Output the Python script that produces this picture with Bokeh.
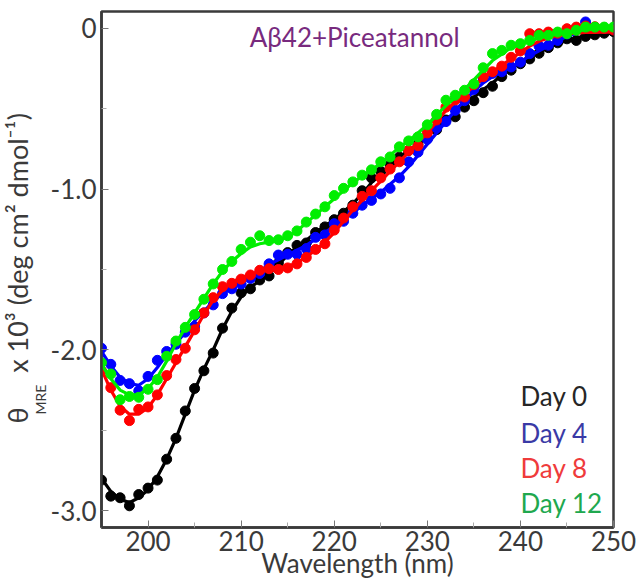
import math
from bokeh.plotting import figure
from bokeh.models import Range1d, FixedTicker, CustomJSTickFormatter, Label, Title
from bokeh.embed import file_html
from bokeh.resources import INLINE

wavelength = list(range(195, 251))

day0_pts = [-2.81, -2.91, -2.92, -2.97, -2.90, -2.86, -2.81, -2.68, -2.55, -2.38,
            -2.24, -2.13, -2.02, -1.865, -1.74, -1.645, -1.62, -1.565, -1.54, -1.46,
            -1.395, -1.35, -1.335, -1.27, -1.235, -1.19, -1.15, -1.10, -1.01, -0.93,
            -0.89, -0.85, -0.80, -0.76, -0.72, -0.685, -0.63, -0.57, -0.55, -0.49,
            -0.45, -0.40, -0.36, -0.30, -0.26, -0.22, -0.19, -0.155, -0.12, -0.09,
            -0.065, -0.075, -0.05, -0.04, -0.03, -0.02]
day4_pts = [-1.99, -2.09, -2.19, -2.21, -2.255, -2.165, -2.065, -2.01, -1.965, -1.89,
            -1.855, -1.77, -1.72, -1.65, -1.62, -1.59, -1.555, -1.525, -1.465, -1.41,
            -1.405, -1.405, -1.37, -1.30, -1.285, -1.215, -1.20, -1.15, -1.10, -1.07,
            -1.03, -0.995, -0.93, -0.83, -0.77, -0.69, -0.62, -0.58, -0.51, -0.45,
            -0.38, -0.31, -0.28, -0.27, -0.24, -0.21, -0.157, -0.11, -0.105, -0.075,
            -0.035, 0.0, 0.04, 0.005, 0.0, -0.005]
day8_pts = [-2.13, -2.235, -2.375, -2.44, -2.37, -2.355, -2.28, -2.16, -2.06, -1.99,
            -1.875, -1.77, -1.675, -1.607, -1.586, -1.56, -1.534, -1.505, -1.495, -1.50,
            -1.49, -1.465, -1.425, -1.375, -1.34, -1.255, -1.18, -1.11, -1.045, -1.01,
            -0.93, -0.875, -0.83, -0.76, -0.73, -0.65, -0.57, -0.49, -0.445, -0.427,
            -0.35, -0.30, -0.27, -0.235, -0.18, -0.14, -0.033, -0.033, -0.023, -0.03,
            -0.002, 0.008, 0.015, 0.01, 0.0, -0.01]
day12_pts = [-2.08, -2.15, -2.31, -2.29, -2.295, -2.245, -2.185, -2.04, -1.945, -1.86,
             -1.78, -1.685, -1.59, -1.50, -1.45, -1.375, -1.33, -1.29, -1.32, -1.315,
             -1.29, -1.26, -1.205, -1.155, -1.11, -1.04, -0.995, -0.955, -0.913, -0.88,
             -0.83, -0.80, -0.737, -0.70, -0.675, -0.60, -0.535, -0.447, -0.416, -0.385,
             -0.345, -0.245, -0.157, -0.137, -0.105, -0.095, -0.075, -0.043, -0.043, -0.023,
             -0.033, -0.012, 0.008, 0.008, 0.008, 0.008]

day0_fit = [-2.80, -2.88, -2.93, -2.95, -2.92, -2.87, -2.79, -2.68, -2.55, -2.40,
            -2.25, -2.12, -2.00, -1.87, -1.76, -1.67, -1.61, -1.57, -1.53, -1.47,
            -1.41, -1.36, -1.32, -1.27, -1.23, -1.19, -1.14, -1.09, -1.03, -0.96,
            -0.90, -0.85, -0.80, -0.76, -0.72, -0.67, -0.62, -0.57, -0.52, -0.47,
            -0.43, -0.38, -0.34, -0.29, -0.25, -0.21, -0.18, -0.15, -0.12, -0.095,
            -0.075, -0.06, -0.045, -0.035, -0.025, -0.02]
day4_fit = [-2.01, -2.10, -2.17, -2.21, -2.22, -2.18, -2.11, -2.03, -1.96, -1.89,
            -1.82, -1.76, -1.70, -1.65, -1.61, -1.58, -1.55, -1.51, -1.47, -1.44,
            -1.41, -1.38, -1.35, -1.31, -1.27, -1.23, -1.19, -1.15, -1.10, -1.06,
            -1.02, -0.97, -0.92, -0.86, -0.79, -0.72, -0.65, -0.58, -0.51, -0.45,
            -0.39, -0.34, -0.30, -0.27, -0.24, -0.21, -0.17, -0.14, -0.11, -0.08,
            -0.05, -0.03, -0.015, -0.01, -0.01, -0.01]
day8_fit = [-2.12, -2.25, -2.35, -2.40, -2.40, -2.36, -2.28, -2.18, -2.08, -1.98,
            -1.88, -1.78, -1.69, -1.63, -1.58, -1.55, -1.53, -1.51, -1.50, -1.49,
            -1.48, -1.46, -1.42, -1.38, -1.33, -1.27, -1.20, -1.13, -1.07, -1.01,
            -0.95, -0.89, -0.83, -0.77, -0.71, -0.65, -0.58, -0.51, -0.46, -0.41,
            -0.36, -0.31, -0.27, -0.23, -0.19, -0.15, -0.11, -0.08, -0.06, -0.045,
            -0.035, -0.03, -0.025, -0.025, -0.023, -0.023]
day12_fit = [-2.09, -2.18, -2.25, -2.28, -2.28, -2.24, -2.17, -2.07, -1.96, -1.86,
             -1.77, -1.68, -1.59, -1.51, -1.45, -1.40, -1.36, -1.34, -1.33, -1.32,
             -1.30, -1.26, -1.21, -1.16, -1.11, -1.06, -1.01, -0.96, -0.92, -0.88,
             -0.84, -0.79, -0.74, -0.70, -0.65, -0.60, -0.54, -0.48, -0.43, -0.38,
             -0.32, -0.26, -0.20, -0.16, -0.12, -0.10, -0.08, -0.06, -0.045, -0.035,
             -0.025, -0.015, -0.01, -0.005, 0.0, 0.005]

series_names = ["Day 0", "Day 4", "Day 8", "Day 12"]
x_ticks = [200, 210, 220, 230, 240, 250]
x_minor = [195, 205, 215, 225, 235, 245]
y_ticks = [-3.0, -2.0, -1.0, 0.0]
y_minor = [-2.5, -1.5, -0.5]

FONT = "Lato"
AX = "#3a3a3a"
FS = "26px"

p = figure(width=641, height=586, output_backend="svg", toolbar_location=None,
           x_range=Range1d(195, 250), y_range=Range1d(-3.105, 0.105),
           min_border_left=100, min_border_right=28, min_border_top=11,
           min_border_bottom=59)
p.background_fill_color = "white"
p.border_fill_color = "white"
p.outline_line_color = AX
p.outline_line_width = 2.5
p.xgrid.visible = False
p.ygrid.visible = False

p.xaxis.ticker = FixedTicker(ticks=x_ticks, minor_ticks=x_minor)
p.yaxis.ticker = FixedTicker(ticks=y_ticks, minor_ticks=y_minor)
p.yaxis.formatter = CustomJSTickFormatter(code="return tick == 0 ? '0' : tick.toFixed(1);")
p.xaxis.formatter = CustomJSTickFormatter(code="return tick.toFixed(0);")

for ax in (p.xaxis, p.yaxis):
    ax.axis_line_color = AX
    ax.axis_line_width = 2.5
    ax.major_tick_in = 7
    ax.major_tick_out = 0
    ax.minor_tick_in = 5
    ax.minor_tick_out = 0
    ax.major_tick_line_color = "#777777"
    ax.minor_tick_line_color = "#aaaaaa"
    ax.major_label_text_font = FONT
    ax.major_label_text_font_size = FS
    ax.major_label_text_color = AX
p.xaxis.major_label_standoff = 3
p.yaxis.major_label_standoff = 5
p.xaxis.axis_label = "Wavelength (nm)"
p.xaxis.axis_label_text_font = FONT
p.xaxis.axis_label_text_font_size = FS
p.xaxis.axis_label_text_font_style = "normal"
p.xaxis.axis_label_text_color = AX
p.xaxis.axis_label_standoff = -7

colors = ["#000000", "#0000ff", "#ff0000", "#00ee00"]
pts = [day0_pts, day4_pts, day8_pts, day12_pts]
fits = [day0_fit, day4_fit, day8_fit, day12_fit]
for c, yp, yf in zip(colors, pts, fits):
    p.line(wavelength, yf, line_color=c, line_width=3.2)
    p.scatter(wavelength, yp, size=10, fill_color=c, line_color=c, marker="circle")

# title inside the frame
p.add_layout(Label(x=222.2, y=-0.056, text="Aβ42+Piceatannol", text_align="center",
                   text_baseline="alphabetic", text_font=FONT, text_font_size=FS,
                   text_color="#782a7e"))

legend_colors = ["#262626", "#3a3aa6", "#ef3b3b", "#20a84e"]
legend_y = [-2.29, -2.517, -2.735, -2.952]
for name, c, yy in zip(series_names, legend_colors, legend_y):
    p.add_layout(Label(x=240.0, y=yy, text=name, text_align="left",
                       text_baseline="alphabetic", text_font=FONT,
                       text_font_size=FS, text_color=c))

# y axis label: subscript part (closer to axis), then main part
sub = Title(text="MRE", align="left", offset=113, standoff=-3,
            text_font=FONT, text_font_size="14px", text_font_style="normal",
            text_color=AX)
main = Title(text="θ" + "\u00a0" * 5 + "x 10³ (deg cm² dmol⁻¹)", align="left",
             offset=104, standoff=-4, text_font=FONT, text_font_size="27px",
             text_font_style="normal", text_color=AX)
p.add_layout(sub, "left")
p.add_layout(main, "left")

open("out.html", "w").write(file_html(p, INLINE))
